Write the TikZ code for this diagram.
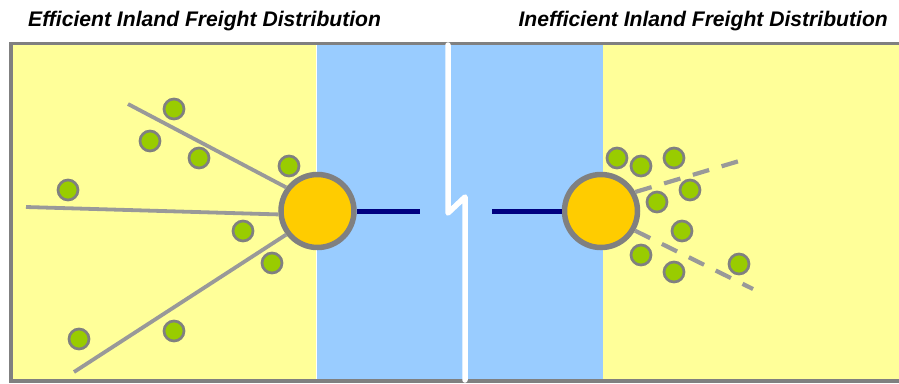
\documentclass[tikz,border=0pt]{standalone}
\usepackage{fontspec}
\setmainfont{Liberation Sans}
\definecolor{land}{HTML}{FFFF99}
\definecolor{sea}{HTML}{99CCFF}
\definecolor{hubfill}{HTML}{FFCC00}
\definecolor{dotgreen}{HTML}{99CC00}
\definecolor{edgegray}{HTML}{808080}
\definecolor{roadgray}{HTML}{999999}
\definecolor{shipnavy}{HTML}{000080}

\begin{document}
\begin{tikzpicture}[x=1bp,y=-1bp,
    hub/.style={circle,draw=edgegray,line width=5.5bp,fill=hubfill,minimum size=73bp,inner sep=0pt},
    dot/.style={circle,draw=edgegray,line width=2.7bp,fill=dotgreen,minimum size=20bp,inner sep=0pt},
    road/.style={draw=roadgray,line width=3.8bp},
    title/.style={font=\fontsize{21.2}{24}\selectfont\bfseries\itshape,inner sep=0pt}]
  \useasboundingbox (0,0) rectangle (899,383);

  % land on both sides, sea in the middle
  \fill[land] (11,43) rectangle (899,381);
  \fill[sea] (316,43) rectangle (603,381);
  \draw[white,line width=0.8bp] (316,45) -- (316,380);
  \draw[edgegray,line width=3.8bp] (905,43.5) -- (11,43.5) -- (11,381) -- (905,381);
  \draw[white,line width=5.5bp,line join=round,line cap=round]
    (448,45) -- (448,213) -- (465,197) -- (465,380);

  \node[title,anchor=base west] (effTitle) at (28,26) {Efficient Inland Freight Distribution};
  \node[title,anchor=base east] (ineffTitle) at (888,26) {Inefficient Inland Freight Distribution};

  \node[hub] (portL) at (317.5,211) {};
  \node[hub] (portR) at (601,211) {};

  % sea link
  \coordinate (gapL) at (420,211);
  \coordinate (gapR) at (492,211);
  \draw[shipnavy,line width=5bp] (portL) -- (gapL);
  \draw[shipnavy,line width=5bp] (gapR) -- (portR);

  % corridors
  \coordinate (endA) at (128,104);
  \coordinate (endB) at (26,207);
  \coordinate (endC) at (74,372);
  \draw[road] (endA) -- (portL.143);
  \draw[road] (endB) -- (portL.185);
  \draw[road] (endC) -- (portL.217);

  \coordinate (tipA) at (746,159);
  \coordinate (tipB) at (753,289);
  \draw[road,line width=4.2bp,dash pattern=on 17bp off 13bp] (portR.29) -- (tipA);
  \draw[road,line width=4.2bp,dash pattern=on 17bp off 13bp] (portR.-30) -- (tipB);

  % inland terminals
  \foreach \x/\y [count=\i] in {174/109,150/141,199/158,289/166,68/190,243/231,272/263,174/331,79/339}
  {
    \node[dot] (w\i) at (\x,\y) {};
  }
  \foreach \x/\y [count=\i] in {617/158,641/166,674/158,690/190,657/202,682/231,641/255,674/272,739/264}
  {
    \node[dot] (e\i) at (\x,\y) {};
  }
\end{tikzpicture}
\end{document}
